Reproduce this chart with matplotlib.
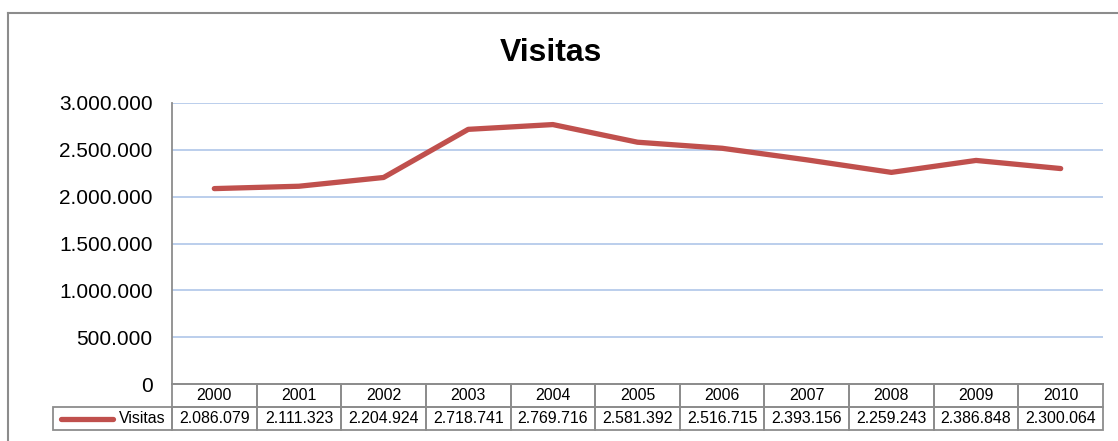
import matplotlib.pyplot as plt
from matplotlib.patches import Rectangle
from matplotlib.lines import Line2D

plt.rcParams["font.family"] = ["Liberation Sans", "DejaVu Sans"]

years = ["2000", "2001", "2002", "2003", "2004", "2005",
         "2006", "2007", "2008", "2009", "2010"]
visitas = [2086079, 2111323, 2204924, 2718741, 2769716, 2581392,
           2516715, 2393156, 2259243, 2386848, 2300064]
yticks = [0, 500000, 1000000, 1500000, 2000000, 2500000, 3000000]

LINE = "#C0504D"
GRID = "#AFC6E9"
BORDER = "#8C8C8C"


def fmt(v):
    return f"{v:,}".replace(",", ".")


W, H = 1118, 441
fig = plt.figure(figsize=(W / 100, H / 100), dpi=100)
ax = fig.add_axes([172 / W, 1 - 384 / H, (1103 - 172) / W, (384 - 103) / H])

n = len(years)
x = [i + 0.5 for i in range(n)]
ax.plot(x, visitas, color=LINE, lw=3.8, solid_capstyle="round",
        solid_joinstyle="round", zorder=3)

ax.set_xlim(0, n)
ax.set_ylim(0, 3000000)
ax.set_yticks(yticks)
ax.set_yticklabels([fmt(t) for t in yticks], fontsize=15)
ax.set_xticks([])
ax.tick_params(axis="y", length=0, pad=14)
for t in yticks[1:]:
    ax.axhline(t, color=GRID, lw=1.2, zorder=1)
for s in ["top", "right"]:
    ax.spines[s].set_visible(False)
ax.spines["left"].set_color(BORDER)
ax.spines["bottom"].set_color(BORDER)
ax.spines["left"].set_linewidth(1.3)
ax.spines["bottom"].set_linewidth(1.3)

# data table below the plot (axes coords: x in columns, y in fraction)
row_h = 23 / (384 - 103)
lab_w = (172 - 53) / ((1103 - 172) / n)
tr = ax.get_xaxis_transform()
for i, (yr, v) in enumerate(zip(years, visitas)):
    for r, txt in enumerate([yr, fmt(v)]):
        y0 = -row_h * (r + 1)
        ax.add_patch(Rectangle((i, y0), 1, row_h, transform=tr, fill=False,
                               ec=BORDER, lw=1.3, clip_on=False))
        ax.text(i + 0.5, y0 + row_h / 2, txt, transform=tr, ha="center",
                va="center", fontsize=11.4, clip_on=False)
ax.add_patch(Rectangle((-lab_w, -2 * row_h), lab_w, row_h, transform=tr,
                       fill=False, ec=BORDER, lw=1.3, clip_on=False))
ax.text(-0.08, -1.5 * row_h, "Visitas", transform=tr, ha="right",
        va="center", fontsize=11.4)
ax.add_line(Line2D([-lab_w + 0.09, -lab_w + 0.71], [-1.5 * row_h] * 2,
                   transform=tr, color=LINE, lw=3.8, solid_capstyle="round",
                   clip_on=False))

# title and outer chart frame
fig.text(551 / W, 1 - 53 / H, "Visitas", ha="center", va="center",
         fontsize=23, fontweight="bold")
fig.add_artist(Line2D([8 / W, 1.0], [1 - 13 / H] * 2, color=BORDER, lw=1.5))
fig.add_artist(Line2D([8 / W] * 2, [0.0, 1 - 13 / H], color=BORDER, lw=1.5))

fig.savefig("out.png", dpi=100)
